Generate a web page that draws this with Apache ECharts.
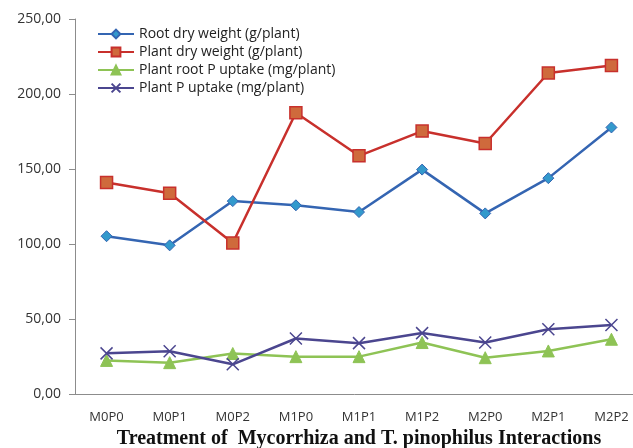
<!DOCTYPE html>
<html>
<head>
<meta charset="utf-8">
<script src="https://cdn.jsdelivr.net/npm/echarts@6/dist/echarts.min.js"></script>
<style>
  html, body { margin: 0; padding: 0; background: #fff; }
  #chart { width: 633px; height: 448px; }
</style>
</head>
<body>
<div id="chart"></div>
<script>
// Treatment combinations (Mycorrhiza level x T. pinophilus level)
const categories = ['M0P0', 'M0P1', 'M0P2', 'M1P0', 'M1P1', 'M1P2', 'M2P0', 'M2P1', 'M2P2'];

const rootDryWeight = [105.2, 99.1, 128.6, 125.8, 121.3, 149.6, 120.4, 143.9, 177.7];
const plantDryWeight = [141.0, 133.8, 100.7, 187.5, 158.8, 175.3, 167.0, 214.0, 219.0];
const plantRootPUptake = [22.4, 20.9, 27.0, 24.9, 24.9, 34.3, 24.2, 28.7, 36.5];
const plantPUptake = [27.1, 28.5, 19.8, 37.0, 33.9, 40.6, 34.3, 43.2, 46.0];

const yTicks = { min: 0, max: 250, step: 50 };

const seriesNames = [
  'Root dry weight (g/plant)',
  'Plant dry weight (g/plant)',
  'Plant root P uptake (mg/plant)',
  'Plant P uptake (mg/plant)'
];

const crossPath = 'path://M0,0L10,10M10,0L0,10';

const chart = echarts.init(document.getElementById('chart'));

chart.setOption({
  animation: false,
  backgroundColor: '#ffffff',
  grid: { left: 75, top: 19, width: 568, bottom: 54, containLabel: false, outerBoundsMode: 'none' },
  legend: {
    orient: 'vertical',
    left: 97,
    top: 27,
    padding: 0,
    itemWidth: 36,
    itemHeight: 11,
    itemGap: 4,
    textStyle: { fontFamily: 'Open Sans, Noto Sans, sans-serif', fontSize: 14, color: '#222' },
    data: seriesNames
  },
  xAxis: {
    type: 'category',
    data: categories,
    boundaryGap: true,
    axisLine: { show: true, lineStyle: { color: '#8c8c8c', width: 1 } },
    axisTick: { show: false },
    axisLabel: { color: '#333', fontSize: 13, margin: 17, fontFamily: 'Open Sans, Noto Sans, sans-serif' },
    name: 'Treatment of  Mycorrhiza and T. pinophilus Interactions',
    nameLocation: 'middle',
    nameGap: 35,
    nameTextStyle: { fontFamily: 'Liberation Serif, Times New Roman, serif', fontWeight: 'bold', fontSize: 20, color: '#111' }
  },
  yAxis: {
    type: 'value',
    min: yTicks.min,
    max: yTicks.max,
    interval: yTicks.step,
    splitLine: { show: false },
    axisLine: { show: true, lineStyle: { color: '#8c8c8c', width: 1 } },
    axisTick: { show: true, length: 6, lineStyle: { color: '#8c8c8c' } },
    axisLabel: {
      color: '#333', fontSize: 14, margin: 14,
      fontFamily: 'Open Sans, Noto Sans, sans-serif',
      formatter: v => v.toFixed(2).replace('.', ',')
    }
  },
  series: [
    {
      name: seriesNames[0], type: 'line', data: rootDryWeight,
      symbol: 'diamond', symbolSize: 11,
      lineStyle: { color: '#3465b2', width: 2.5 },
      itemStyle: { color: '#3399cc', borderColor: '#3465b2', borderWidth: 1 }
    },
    {
      name: seriesNames[1], type: 'line', data: plantDryWeight,
      symbol: 'rect', symbolSize: 12,
      lineStyle: { color: '#c8302c', width: 2.5 },
      itemStyle: { color: '#cf6a3c', borderColor: '#c8302c', borderWidth: 1.5 }
    },
    {
      name: seriesNames[2], type: 'line', data: plantRootPUptake,
      symbol: 'triangle', symbolSize: 12,
      lineStyle: { color: '#8ec355', width: 2.5 },
      itemStyle: { color: '#8ec355', borderColor: '#8ec355', borderWidth: 1 }
    },
    {
      name: seriesNames[3], type: 'line', data: plantPUptake,
      symbol: crossPath, symbolSize: 12,
      lineStyle: { color: '#4b468f', width: 2.5 },
      itemStyle: { color: 'none', borderColor: '#4b468f', borderWidth: 1.5 }
    }
  ]
});
</script>
</body>
</html>
